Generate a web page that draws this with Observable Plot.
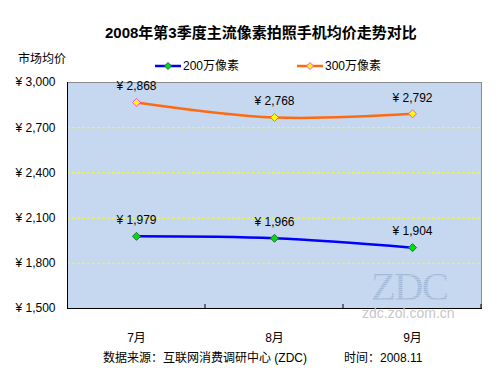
<!DOCTYPE html>
<html><head><meta charset="utf-8">
<script src="https://cdn.jsdelivr.net/npm/d3@7"></script>
<script src="https://cdn.jsdelivr.net/npm/@observablehq/plot@0.6"></script>
<style>
body{margin:0;background:#fff;}
#wrap{position:relative;width:500px;height:375px;overflow:hidden;font-family:"Liberation Sans","Noto Sans CJK SC",sans-serif;color:#000;}
#chart{position:absolute;left:0;top:0;}
.abs{position:absolute;white-space:nowrap;font-size:12px;line-height:1;}
.sw{position:absolute;}
#wm{background:repeating-linear-gradient(to bottom,#a2b9d8 0px,#a2b9d8 1px,#b7cbe6 1px,#b7cbe6 2px);-webkit-background-clip:text;background-clip:text;color:transparent;}
</style></head><body>
<div id="wrap">
  <div id="chart"></div>
  <div class="abs" id="wm" style="left:371px;top:270px;font-family:'Liberation Serif','DejaVu Serif',serif;font-size:41px;line-height:32px;letter-spacing:-2px;">ZDC</div>
  <div class="abs" style="left:362px;top:307px;font-size:14px;line-height:12px;color:#c8c8c8;">zdc.zol.com.cn</div>
  <div class="abs" id="title" style="left:105px;top:25px;font-size:15px;font-weight:bold;"></div>
  <div class="abs" id="ylab" style="left:18px;top:53px;"></div>
  <div id="legend"></div>
  <div class="abs" id="src" style="left:103px;top:352px;"></div>
  <div class="abs" id="time" style="left:344px;top:352px;"></div>
</div>
<script>
const titleText = "2008年第3季度主流像素拍照手机均价走势对比";
const yLabel = "市场均价";
const sourceText = "数据来源：互联网消费调研中心 (ZDC)";
const timeText = "时间：2008.11";
const months = ["7月", "8月", "9月"];
const seriesNames = ["200万像素", "300万像素"];
const price200 = [1979, 1966, 1904];
const price300 = [2868, 2768, 2792];
const yTicks = [1500, 1800, 2100, 2400, 2700, 3000];
const gridTicks = [1800, 2100, 2400, 2700];
const lineColors = ["#0000ff", "#ff6a10"];
const markerFill = ["#00e000", "#ffff00"];
const markerStroke = ["#306060", "#ff40ff"];

document.getElementById("title").textContent = titleText;
document.getElementById("ylab").textContent = yLabel;
document.getElementById("src").textContent = sourceText;
document.getElementById("time").textContent = timeText;

const data = [
  ...months.map((m, i) => ({month: m, series: seriesNames[0], value: price200[i]})),
  ...months.map((m, i) => ({month: m, series: seriesNames[1], value: price300[i]}))
];
const fmt = d => "¥ " + d3.format(",")(d);

const plot = Plot.plot({
  width: 500,
  height: 375,
  marginLeft: 67,
  marginRight: 19,
  marginTop: 82,
  marginBottom: 67,
  style: {fontFamily: "'Liberation Sans','Noto Sans CJK SC',sans-serif", fontSize: "12px", background: "transparent", color: "#000"},
  x: {type: "band", domain: months, padding: 0},
  y: {domain: [1500, 3000]},
  color: {domain: seriesNames, range: lineColors},
  marks: [
    Plot.frame({fill: "#c5d8f0", stroke: "#8c8c8c"}),
    Plot.ruleY(gridTicks, {stroke: "#ffff00", strokeDasharray: "3,2", strokeWidth: 1}),
    Plot.frame({anchor: "left", stroke: "#000"}),
    Plot.frame({anchor: "bottom", stroke: "#000"}),
    Plot.line(data, {x: "month", y: "value", z: "series", stroke: "series", strokeWidth: 2.5, curve: "catmull-rom"}),
    ...seriesNames.map((s, i) => Plot.dot(data.filter(d => d.series === s), {
      x: "month", y: "value", symbol: "diamond2", r: 3.6, fill: markerFill[i], stroke: markerStroke[i], strokeWidth: 1
    })),
    Plot.text(data, {x: "month", y: "value", text: d => fmt(d.value), dy: -16, fontSize: 12, fill: "#000"}),
    Plot.axisY({ticks: yTicks, tickFormat: fmt, tickSize: 0, tickPadding: 12, label: null, fontSize: 12}),
    Plot.axisX({tickSize: 0, tickPadding: 25, label: null, fontSize: 12})
  ]
});
document.getElementById("chart").appendChild(plot);

// small category divider ticks at band boundaries, from the plot's own scales
const xs = plot.scale("x"), ys = plot.scale("y");
const bounds = [...months.slice(1).map(m => xs.apply(m)), xs.apply(months[months.length - 1]) + xs.bandwidth];
const y0 = ys.apply(1500);
d3.select(plot).append("g").selectAll("line").data(bounds).join("line")
  .attr("x1", d => d).attr("x2", d => d)
  .attr("y1", y0).attr("y2", y0 - 4)
  .attr("stroke", "#000");

// legend
const legend = document.getElementById("legend");
const legendX = [155, 297];
seriesNames.forEach((s, i) => {
  const sw = d3.create("svg").attr("width", 26).attr("height", 10).attr("class", "sw")
    .style("left", legendX[i] + "px").style("top", "61px");
  sw.append("line").attr("x1", 0).attr("x2", 26).attr("y1", 5).attr("y2", 5)
    .attr("stroke", lineColors[i]).attr("stroke-width", 2.5);
  sw.append("path").attr("d", "M13,1.5 L16.5,5 L13,8.5 L9.5,5 Z")
    .attr("fill", markerFill[i]).attr("stroke", markerStroke[i]);
  legend.appendChild(sw.node());
  const t = document.createElement("div");
  t.className = "abs";
  t.style.left = (legendX[i] + 28) + "px";
  t.style.top = "60px";
  t.textContent = s;
  legend.appendChild(t);
});
</script>
</body></html>
